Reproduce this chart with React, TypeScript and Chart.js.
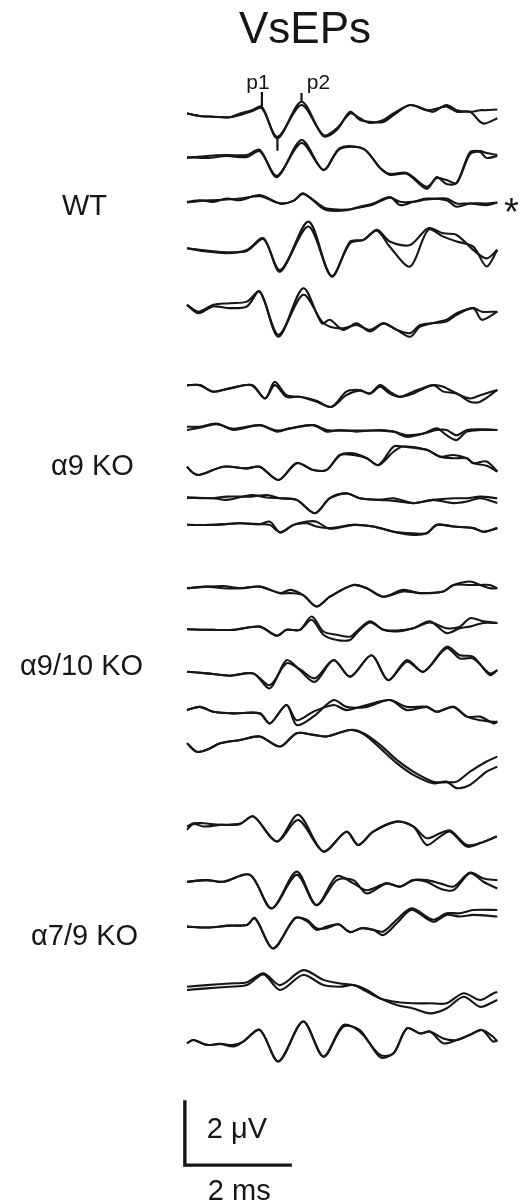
import React, { useEffect, useRef } from "react";
import { Chart, registerables } from "chart.js";
Chart.register(...registerables);

// ---------- data (time in ms, amplitude in µV; two repeated recordings A/B per animal) ----------
// WT
const WT1_T = [0, 0.24, 0.49, 0.80, 0.99, 1.21, 1.40, 1.69, 2.14, 2.55, 2.80, 3.05, 3.23, 3.42, 3.67, 3.86, 4.17, 4.48, 4.60, 4.85, 5.04, 5.29, 5.48, 5.57, 5.80];
const WT1_A = [0.05, -0.03, -0.05, -0.07, 0.05, 0.15, 0.26, -0.72, 0.41, -0.65, -0.46, 0.10, -0.15, -0.21, -0.21, 0, 0.31, 0.15, 0.10, 0.31, 0.15, 0.10, 0.15, 0.15, 0.17];
const WT1_B = [0.05, -0.03, -0.05, -0.07, 0, 0.12, 0.21, -0.67, 0.31, -0.62, -0.41, 0.05, -0.10, -0.24, -0.15, 0.05, 0.31, 0.15, 0.17, 0.26, 0.10, 0.10, -0.21, -0.26, -0.10];

const WT2_T = [0, 0.37, 0.74, 1.12, 1.36, 1.68, 2.14, 2.55, 2.86, 3.30, 3.61, 3.79, 4.11, 4.48, 4.67, 4.85, 5.04, 5.29, 5.48, 5.60, 5.80];
const WT2_A = [-0.03, 0.03, 0.06, 0.06, 0.22, -0.62, 0.52, -0.40, 0.28, 0.25, -0.34, -0.55, -0.52, -0.98, -0.62, -0.83, -0.80, 0.15, 0.18, 0.12, 0.06];
const WT2_B = [0, -0.03, 0.03, 0, 0.18, -0.58, 0.43, -0.40, 0.25, 0.25, -0.34, -0.52, -0.49, -0.92, -0.65, -0.71, -0.80, 0.09, 0.15, -0.03, 0.03];

const WT3_T = [0, 0.24, 0.49, 0.74, 0.99, 1.36, 1.74, 1.99, 2.17, 2.49, 2.61, 2.98, 3.23, 3.48, 3.79, 3.98, 4.23, 4.48, 4.85, 5.04, 5.29, 5.60, 5.80];
const WT3_A = [0, 0.05, 0, 0.10, 0.05, 0.21, -0.05, 0.03, 0.26, -0.15, -0.26, -0.26, -0.15, -0.05, 0.15, -0.10, 0, 0.10, 0.05, -0.15, -0.05, -0.05, -0.02];
const WT3_B = [-0.02, 0.03, 0.05, 0.07, 0.10, 0.17, -0.05, 0.03, 0.24, -0.10, -0.21, -0.24, -0.17, -0.08, 0.13, 0, 0, 0.07, 0.10, -0.05, -0.05, -0.10, -0.02];

const WT4_T = [0, 0.37, 0.74, 1.12, 1.43, 1.74, 2.27, 2.70, 3.05, 3.30, 3.55, 3.79, 4.17, 4.51, 4.79, 5.04, 5.35, 5.60, 5.80];
const WT4_A = [0.05, -0.05, -0.10, 0, 0.36, -0.67, 0.87, -0.82, 0.26, 0.31, 0.62, 0.26, 0.15, 0.67, 0.51, 0.46, 0, -0.26, 0];
const WT4_B = [0.05, -0.02, -0.07, -0.03, 0.33, -0.62, 0.72, -0.80, 0.21, 0.31, 0.59, 0.10, -0.51, 0.62, 0.41, 0.26, 0.10, -0.51, 0];

const WT5_T = [0, 0.21, 0.49, 0.80, 1.12, 1.36, 1.71, 2.17, 2.52, 2.67, 2.92, 3.17, 3.42, 3.67, 3.92, 4.17, 4.36, 4.85, 5.04, 5.35, 5.51, 5.80];
const WT5_A = [-0.05, -0.26, -0.05, 0, 0.05, 0.36, -1.03, 0.46, -0.62, -0.51, -0.82, -0.62, -0.87, -0.62, -0.82, -1.03, -0.72, -0.51, -0.31, -0.15, -0.26, -0.26];
const WT5_B = [-0.05, -0.31, -0.10, -0.15, -0.10, 0.36, -0.97, 0.26, -0.56, -0.72, -0.77, -0.67, -0.82, -0.62, -0.82, -0.92, -0.67, -0.56, -0.36, -0.15, -0.51, -0.26];

// α9 KO
const KO1_T = [0, 0.24, 0.49, 0.80, 1.21, 1.46, 1.64, 1.86, 2.11, 2.42, 2.70, 2.98, 3.23, 3.42, 3.61, 3.79, 3.98, 4.23, 4.60, 4.79, 5.04, 5.29, 5.48, 5.80];
const KO1_A = [0.05, 0.05, -0.15, -0.05, 0.05, -0.36, 0.15, -0.26, -0.31, -0.46, -0.62, -0.15, -0.10, -0.21, 0.05, -0.15, -0.31, -0.15, 0.05, 0, -0.21, -0.36, -0.26, -0.10];
const KO1_B = [0.05, 0.05, -0.15, -0.05, 0.05, -0.36, 0.05, -0.31, -0.31, -0.43, -0.62, -0.26, -0.12, -0.21, 0, -0.21, -0.31, -0.21, 0.05, -0.15, -0.21, -0.46, -0.46, -0.10];

const KO2_T = [0, 0.24, 0.55, 0.87, 1.36, 1.68, 1.93, 2.36, 2.61, 2.86, 3.17, 3.61, 3.86, 4.11, 4.42, 4.67, 4.85, 5.04, 5.23, 5.48, 5.80];
const KO2_A = [0, 0, 0.10, -0.10, 0.05, -0.15, -0.05, 0.05, -0.15, -0.10, -0.15, -0.10, -0.15, -0.31, -0.21, -0.05, -0.26, -0.41, -0.15, -0.10, -0.10];
const KO2_B = [-0.10, -0.03, 0.08, -0.06, 0.05, -0.12, -0.05, 0.05, -0.10, -0.12, -0.12, -0.12, -0.15, -0.26, -0.21, -0.10, -0.10, -0.26, -0.10, -0.08, -0.10];

const KO3_T = [0, 0.12, 0.24, 0.68, 1.12, 1.36, 1.71, 2.05, 2.36, 2.61, 2.86, 3.11, 3.36, 3.58, 3.86, 4.04, 4.48, 4.73, 4.98, 5.23, 5.35, 5.60, 5.80];
const KO3_A = [0.10, -0.10, -0.15, 0.10, 0.05, 0.10, -0.31, 0.21, 0, 0, 0.46, 0.46, 0.36, 0.15, 0.56, 0.72, 0.62, 0.41, 0.36, 0.36, 0.21, 0.26, -0.05];
const KO3_B = [0.10, -0.10, -0.15, 0.10, 0.05, 0.10, -0.31, 0.21, 0, 0, 0.46, 0.51, 0.36, 0.15, 0.72, 0.72, 0.62, 0.41, 0.46, 0.36, 0.21, 0.13, -0.05];

const KO4_T = [0, 0.49, 0.74, 1.21, 1.49, 1.74, 2.05, 2.39, 2.67, 2.98, 3.23, 3.61, 3.86, 4.23, 4.60, 4.98, 5.23, 5.48, 5.80];
const KO4_A = [0, -0.02, -0.07, 0.08, 0, -0.02, -0.07, -0.48, -0.02, 0.13, -0.02, -0.07, -0.10, -0.17, -0.07, -0.02, -0.02, 0.03, -0.02];
const KO4_B = [0, -0.02, 0.03, 0.03, 0.08, -0.02, -0.07, -0.48, -0.02, 0.13, -0.02, -0.07, -0.02, -0.17, -0.07, -0.17, -0.12, -0.02, -0.17];

const KO5_T = [0, 0.49, 0.99, 1.36, 1.55, 1.74, 1.99, 2.24, 2.42, 2.67, 3.11, 3.48, 3.86, 4.23, 4.48, 4.67, 4.98, 5.35, 5.54, 5.80];
const KO5_A = [0, 0, 0.05, 0.02, 0.10, -0.23, 0, 0.05, -0.05, -0.10, 0, -0.05, -0.21, -0.31, -0.26, 0, -0.05, -0.10, -0.21, -0.10];
const KO5_B = [0, 0, 0.05, 0.02, 0, -0.23, 0, 0.10, 0.10, -0.12, 0, -0.05, -0.21, -0.26, -0.26, 0, -0.05, -0.10, -0.21, -0.10];

// α9/10 KO
const D1_T = [0, 0.37, 0.68, 0.99, 1.36, 1.74, 1.93, 2.17, 2.42, 2.67, 3.11, 3.36, 3.67, 4.04, 4.36, 4.79, 4.98, 5.29, 5.48, 5.66, 5.80];
const D1_A = [0, 0.05, 0, 0, 0.05, -0.15, -0.05, -0.21, -0.56, -0.26, 0.10, 0, -0.26, -0.05, -0.15, -0.10, 0.10, 0.21, 0.10, 0, 0];
const D1_B = [0, 0.05, 0.07, 0, 0.05, -0.15, -0.15, -0.21, -0.56, -0.26, 0.10, 0, -0.26, -0.10, -0.15, -0.10, 0.10, 0.10, 0.10, 0.10, 0];

const D2_T = [0, 0.49, 0.87, 1.36, 1.68, 1.86, 2.11, 2.33, 2.55, 2.80, 3.05, 3.17, 3.42, 3.67, 3.92, 4.23, 4.54, 4.85, 5.10, 5.29, 5.54, 5.80];
const D2_A = [0.02, 0, 0, 0.10, -0.18, 0, 0, 0.41, -0.05, -0.15, -0.21, -0.05, 0.26, 0, -0.05, 0.05, 0.26, -0.10, 0.05, 0.10, 0.21, 0.21];
const D2_B = [0.02, 0, 0, 0.10, -0.18, 0, 0, 0.31, -0.15, -0.31, -0.31, -0.10, 0.23, 0, -0.02, 0.05, 0.23, 0.05, 0.10, 0.36, 0.26, 0.21];

const D3_T = [0, 0.37, 0.80, 1.24, 1.55, 1.86, 2.11, 2.39, 2.74, 3.05, 3.45, 3.76, 4.11, 4.42, 4.85, 5.10, 5.35, 5.66, 5.80];
const D3_A = [0.05, 0, -0.07, 0, -0.46, 0.41, 0.10, -0.26, 0.41, -0.10, 0.56, -0.21, 0.41, 0.05, 0.82, 0.56, 0.51, -0.05, 0.10];
const D3_B = [0.05, 0, -0.07, 0, -0.36, 0.31, 0.13, -0.15, 0.41, -0.10, 0.56, -0.21, 0.36, 0.05, 0.77, 0.46, 0.46, 0, 0.10];

const D4_T = [0, 0.24, 0.49, 0.87, 1.36, 1.55, 1.86, 2.05, 2.36, 2.74, 2.98, 3.36, 3.79, 4.11, 4.48, 4.67, 4.98, 5.23, 5.48, 5.73, 5.80];
const D4_A = [0.05, 0.15, 0, -0.05, -0.05, -0.36, 0.21, -0.41, -0.15, 0.36, 0.15, 0.15, 0.36, 0.05, 0.15, 0, 0.15, -0.15, -0.15, -0.36, -0.31];
const D4_B = [0.05, 0.15, 0, -0.05, -0.05, -0.36, 0.21, -0.26, 0, 0.21, 0.05, 0.21, 0.36, 0.15, 0.15, 0, 0.15, -0.15, -0.26, -0.31, -0.31];

const D5_T = [0, 0.18, 0.37, 0.62, 0.99, 1.36, 1.74, 2.05, 2.36, 2.61, 3.05, 3.30, 3.61, 3.92, 4.23, 4.60, 4.85, 5.04, 5.29, 5.60, 5.80];
const D5_A = [0.05, -0.21, -0.15, 0.05, 0.15, 0.26, -0.05, 0.36, 0.31, 0.26, 0.46, 0.36, 0, -0.46, -0.82, -1.13, -1.15, -1.13, -0.82, -0.51, -0.36];
const D5_B = [0.05, -0.21, -0.15, 0.05, 0.15, 0.26, -0.05, 0.36, 0.31, 0.26, 0.46, 0.33, -0.10, -0.56, -0.92, -1.18, -1.13, -1.33, -1.23, -0.82, -0.67];

// α7/9 KO
const E1_T = [0, 0.12, 0.31, 0.62, 0.99, 1.24, 1.68, 2.08, 2.55, 2.98, 3.20, 3.48, 3.92, 4.23, 4.48, 4.73, 4.92, 5.23, 5.48, 5.79];
const E1_A = [-0.05, 0.05, 0.05, 0, 0.03, 0.26, -0.51, 0.31, -0.82, -0.21, -0.62, -0.21, 0.10, -0.05, -0.62, -0.36, -0.21, -0.67, -0.56, -0.36];
const E1_B = [-0.15, 0.03, -0.05, 0, 0.03, 0.26, -0.51, 0.15, -0.82, -0.21, -0.62, -0.21, 0.10, -0.05, -0.41, -0.26, -0.17, -0.62, -0.56, -0.36];

const E2_T = [0, 0.37, 0.68, 1.18, 1.58, 2.05, 2.42, 2.80, 3.11, 3.36, 3.73, 3.98, 4.23, 4.48, 4.73, 4.98, 5.29, 5.54, 5.80];
const E2_A = [0, 0.05, 0, 0.21, -0.82, 0.31, -0.72, 0.17, -0.05, -0.26, -0.05, -0.15, 0.05, 0.05, -0.05, -0.15, 0.28, 0.10, 0.05];
const E2_B = [0, 0.05, 0, 0.21, -0.82, 0.21, -0.72, 0.05, 0.05, -0.36, -0.05, -0.15, 0.05, 0, -0.21, -0.26, 0.26, 0, -0.21];

const E3_T = [0, 0.37, 0.80, 1.12, 1.27, 1.61, 2.02, 2.24, 2.42, 2.61, 2.83, 3.05, 3.26, 3.48, 3.67, 3.92, 4.20, 4.60, 4.85, 5.10, 5.35, 5.80];
const E3_A = [0, -0.03, 0.03, 0.05, 0.26, -0.67, 0.26, 0.17, -0.10, 0, 0.07, -0.17, -0.05, -0.10, -0.15, 0.21, 0.56, 0.21, 0.41, 0.41, 0.51, 0.51];
const E3_B = [0, -0.03, 0.03, 0.05, 0.26, -0.67, 0.26, 0.21, -0.05, -0.05, 0.07, -0.17, -0.05, -0.10, -0.26, 0.10, 0.51, 0.15, 0.36, 0.31, 0.36, 0.31];

const E4_T = [0, 0.37, 0.80, 1.12, 1.43, 1.74, 2.17, 2.55, 2.86, 3.11, 3.36, 3.61, 3.92, 4.23, 4.54, 4.85, 5.17, 5.48, 5.73, 5.80];
const E4_A = [0, 0.05, 0.10, 0.14, 0.41, 0.05, 0.51, 0.21, 0.10, 0.05, -0.15, -0.36, -0.47, -0.51, -0.51, -0.51, -0.20, -0.41, -0.20, -0.16];
const E4_B = [-0.10, -0.05, 0, 0.05, 0.38, -0.10, 0.36, 0.05, 0, 0.05, -0.10, -0.36, -0.56, -0.67, -0.82, -0.67, -0.31, -0.62, -0.46, -0.41];

const E5_T = [0, 0.12, 0.37, 0.62, 0.87, 1.05, 1.36, 1.71, 2.17, 2.55, 2.92, 3.23, 3.61, 3.86, 4.11, 4.36, 4.54, 4.79, 5.04, 5.29, 5.51, 5.72, 5.80];
const E5_A = [-0.02, 0.08, -0.07, -0.04, -0.07, 0.03, 0.39, -0.58, 0.65, -0.43, 0.54, 0.34, -0.38, -0.33, 0.44, 0.28, 0.34, -0.02, 0.08, 0.24, 0.39, 0.03, 0.08];
const E5_B = [-0.02, 0.08, -0.07, -0.04, -0.12, 0.03, 0.39, -0.58, 0.65, -0.43, 0.49, 0.39, -0.45, -0.33, 0.44, 0.28, 0.34, 0.13, 0.08, 0.24, 0.39, 0.18, 0.03];

// peak markers on the first WT trace (p1, its trough, p2): time and µV span relative to that trace
const MARK_T = [1.40, 1.69, 2.14];
const MARK_FROM = [0.26, -0.72, 0.41];
const MARK_TO = [0.71, -1.10, 0.68];

// labels
const TITLE = "VsEPs";
const GROUP_LABELS = ["WT", "α9 KO", "α9/10 KO", "α7/9 KO"];
const PEAK_LABELS = ["p1", "p2"];
const SCALE_T_MS = 2;
const SCALE_V_UV = 2;

// ---------- layout (stack offsets in µV, scale ranges) ----------
const TRACE_OFFSETS = [
  -3.54, -4.83, -6.21, -7.69, -9.33,
  -11.90, -13.13, -14.46, -15.31, -16.15,
  -18.10, -19.38, -20.72, -21.90, -22.92,
  -25.38, -27.13, -28.51, -30.36, -32.08,
];
const X_MIN = -3.495;
const X_MAX = 6.336;
const Y_MIN = -37.015;
const Y_MAX = 0;
const BAR_T0 = -0.04;
const BAR_V0 = -35.85;

const TRACES: [number[], number[], number[]][] = [
  [WT1_T, WT1_A, WT1_B], [WT2_T, WT2_A, WT2_B], [WT3_T, WT3_A, WT3_B], [WT4_T, WT4_A, WT4_B], [WT5_T, WT5_A, WT5_B],
  [KO1_T, KO1_A, KO1_B], [KO2_T, KO2_A, KO2_B], [KO3_T, KO3_A, KO3_B], [KO4_T, KO4_A, KO4_B], [KO5_T, KO5_A, KO5_B],
  [D1_T, D1_A, D1_B], [D2_T, D2_A, D2_B], [D3_T, D3_A, D3_B], [D4_T, D4_A, D4_B], [D5_T, D5_A, D5_B],
  [E1_T, E1_A, E1_B], [E2_T, E2_A, E2_B], [E3_T, E3_A, E3_B], [E4_T, E4_A, E4_B], [E5_T, E5_A, E5_B],
];

const FONT = '"Liberation Sans", Arial, Helvetica, sans-serif';
const INK = "#161616";

const textPlugin = {
  id: "vsepText",
  afterDraw(chart: any) {
    const ctx = chart.ctx as CanvasRenderingContext2D;
    const xs = chart.scales.x;
    const ys = chart.scales.y;
    ctx.save();
    ctx.fillStyle = INK;
    ctx.textBaseline = "alphabetic";
    // title
    ctx.font = `44px ${FONT}`;
    ctx.textAlign = "center";
    ctx.fillText(TITLE, 305, 43);
    // peak labels
    ctx.font = `21px ${FONT}`;
    ctx.fillText(PEAK_LABELS[0], xs.getPixelForValue(MARK_T[0]) - 4, 89);
    ctx.fillText(PEAK_LABELS[1], xs.getPixelForValue(MARK_T[2]) + 17, 89);
    // group labels
    ctx.font = `29px ${FONT}`;
    ctx.textAlign = "left";
    const gx = [62, 51, 20, 31];
    const gy = [215, 475, 675, 945];
    GROUP_LABELS.forEach((s, i) => ctx.fillText(s, gx[i], gy[i]));
    // asterisk next to WT trace 3
    ctx.font = `38px ${FONT}`;
    ctx.fillText("*", 504, 225);
    // scale bar labels
    ctx.font = `29px ${FONT}`;
    ctx.textAlign = "left";
    const bx = xs.getPixelForValue(BAR_T0);
    ctx.fillText(`${SCALE_V_UV} μV`, bx + 22, ys.getPixelForValue(BAR_V0 + 1) + 5);
    ctx.fillText(`${SCALE_T_MS} ms`, bx + 23, 1200);
    ctx.restore();
  },
};

export default function App() {
  const ref = useRef<HTMLCanvasElement | null>(null);
  useEffect(() => {
    if (!ref.current) return;
    const datasets: any[] = [];
    TRACES.forEach(([t, a, b], i) => {
      const off = TRACE_OFFSETS[i];
      [a, b].forEach((v) => {
        datasets.push({
          data: t.map((tt, k) => ({ x: tt, y: v[k] + off })),
          borderColor: INK,
          borderWidth: 2.1,
          pointRadius: 0,
          tension: 0.3,
          fill: false,
        });
      });
    });
    MARK_T.forEach((t, i) => {
      datasets.push({
        data: [
          { x: t, y: MARK_FROM[i] + TRACE_OFFSETS[0] },
          { x: t, y: MARK_TO[i] + TRACE_OFFSETS[0] },
        ],
        borderColor: INK,
        borderWidth: 2.2,
        pointRadius: 0,
        tension: 0,
      });
    });
    datasets.push({
      data: [
        { x: BAR_T0, y: BAR_V0 + SCALE_V_UV },
        { x: BAR_T0, y: BAR_V0 },
        { x: BAR_T0 + SCALE_T_MS, y: BAR_V0 },
      ],
      borderColor: INK,
      borderWidth: 3.4,
      pointRadius: 0,
      tension: 0,
      borderJoinStyle: "miter",
    });
    const chart = new Chart(ref.current, {
      type: "line",
      data: { datasets },
      options: {
        animation: false,
        responsive: false,
        devicePixelRatio: 1,
        layout: { padding: 0 },
        plugins: { legend: { display: false }, tooltip: { enabled: false }, title: { display: false } },
        scales: {
          x: { type: "linear", display: false, min: X_MIN, max: X_MAX },
          y: { type: "linear", display: false, min: Y_MIN, max: Y_MAX },
        },
      },
      plugins: [textPlugin],
    } as any);
    return () => chart.destroy();
  }, []);
  return (
    <div style={{ position: "absolute", left: 0, top: 0, width: 526, height: 1203, background: "#fff" }}>
      <canvas ref={ref} width={526} height={1203} style={{ display: "block" }} />
    </div>
  );
}
